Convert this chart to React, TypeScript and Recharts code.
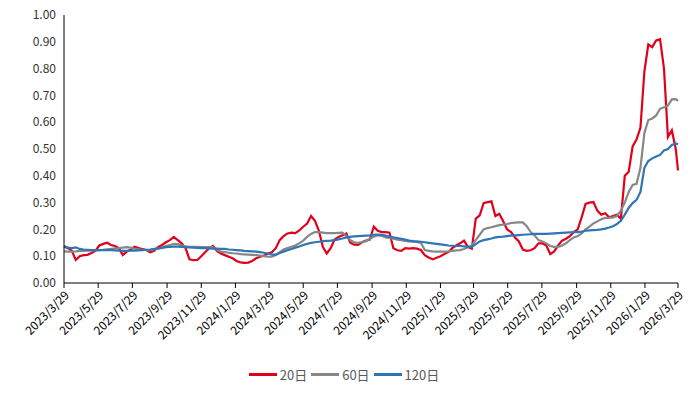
import React from 'react';
import { LineChart, Line, XAxis, YAxis, Legend } from 'recharts';

// x-axis tick labels (every two months)
const tickLabels = [
  '2023/3/29', '2023/5/29', '2023/7/29', '2023/9/29', '2023/11/29',
  '2024/1/29', '2024/3/29', '2024/5/29', '2024/7/29', '2024/9/29', '2024/11/29',
  '2025/1/29', '2025/3/29', '2025/5/29', '2025/7/29', '2025/9/29', '2025/11/29',
  '2026/1/29', '2026/3/29',
];

const yTicks = [0, 0.1, 0.2, 0.3, 0.4, 0.5, 0.6, 0.7, 0.8, 0.9, 1.0];

// weekly samples from 2023/3/29, last one on 2026/3/29
const vol20 = [
  0.135, 0.13, 0.12, 0.086, 0.1, 0.104, 0.105, 0.112, 0.12, 0.14,
  0.146, 0.15, 0.142, 0.138, 0.13, 0.104, 0.117, 0.125, 0.135, 0.13,
  0.127, 0.123, 0.115, 0.12, 0.134, 0.142, 0.152, 0.16, 0.172, 0.16,
  0.148, 0.13, 0.088, 0.085, 0.086, 0.1, 0.115, 0.13, 0.138, 0.12,
  0.11, 0.104, 0.098, 0.092, 0.082, 0.077, 0.075, 0.076, 0.082, 0.092,
  0.098, 0.102, 0.11, 0.115, 0.13, 0.16, 0.175, 0.185, 0.188, 0.186,
  0.196, 0.21, 0.222, 0.25, 0.232, 0.195, 0.135, 0.11, 0.13, 0.162,
  0.172, 0.178, 0.185, 0.15, 0.143, 0.142, 0.152, 0.158, 0.162, 0.21,
  0.195, 0.19, 0.19, 0.188, 0.13, 0.122, 0.12, 0.13, 0.128, 0.13,
  0.128, 0.123, 0.104, 0.095, 0.088, 0.094, 0.1, 0.108, 0.115, 0.13,
  0.14, 0.148, 0.158, 0.135, 0.128, 0.24, 0.252, 0.298, 0.302, 0.305,
  0.25, 0.258, 0.23, 0.2, 0.19, 0.17, 0.155, 0.125, 0.12, 0.122,
  0.13, 0.148, 0.148, 0.14, 0.108, 0.118, 0.14, 0.158, 0.165, 0.175,
  0.19, 0.2, 0.245, 0.295, 0.3, 0.302, 0.27, 0.255, 0.26, 0.245,
  0.25, 0.255, 0.24, 0.4, 0.415, 0.51, 0.535, 0.58, 0.79, 0.89,
  0.88, 0.905, 0.91, 0.8, 0.545, 0.57, 0.5, 0.42,
];

const vol60 = [
  0.118, 0.117, 0.117, 0.118, 0.12, 0.12, 0.121, 0.122, 0.122, 0.123,
  0.124, 0.126, 0.127, 0.129, 0.13, 0.132, 0.134, 0.132, 0.128, 0.126,
  0.124, 0.123, 0.123, 0.125, 0.128, 0.132, 0.138, 0.142, 0.146, 0.145,
  0.14, 0.137, 0.135, 0.135, 0.135, 0.134, 0.134, 0.134, 0.133, 0.125,
  0.117, 0.115, 0.113, 0.111, 0.11, 0.108, 0.107, 0.106, 0.105, 0.104,
  0.102, 0.1, 0.098, 0.098, 0.104, 0.115, 0.125, 0.13, 0.135, 0.14,
  0.148, 0.158, 0.172, 0.183, 0.19, 0.19, 0.188, 0.186, 0.186, 0.186,
  0.187, 0.188, 0.175, 0.16, 0.152, 0.15, 0.153, 0.156, 0.165, 0.173,
  0.178, 0.176, 0.17, 0.168, 0.165, 0.162, 0.16, 0.157, 0.155, 0.154,
  0.153, 0.15, 0.123, 0.12, 0.118, 0.117, 0.117, 0.117, 0.118, 0.12,
  0.122, 0.123, 0.127, 0.133, 0.14, 0.16, 0.18, 0.2, 0.205, 0.208,
  0.212, 0.216, 0.218, 0.22, 0.224, 0.225, 0.226, 0.226, 0.212, 0.19,
  0.178, 0.16, 0.155, 0.148, 0.138, 0.135, 0.135, 0.14, 0.148, 0.16,
  0.17, 0.175, 0.185, 0.2, 0.21, 0.222, 0.23, 0.238, 0.243, 0.243,
  0.245, 0.25, 0.27, 0.3, 0.34, 0.366, 0.37, 0.43, 0.56, 0.608,
  0.614, 0.625, 0.65, 0.656, 0.662, 0.685, 0.686, 0.68,
];

const vol120 = [
  0.138, 0.132, 0.13, 0.133, 0.127, 0.125, 0.124, 0.123, 0.123, 0.123,
  0.123, 0.123, 0.123, 0.122, 0.121, 0.12, 0.12, 0.121, 0.121, 0.122,
  0.123, 0.124, 0.125, 0.127, 0.129, 0.131, 0.134, 0.135, 0.136, 0.136,
  0.135, 0.134, 0.133, 0.132, 0.131, 0.13, 0.13, 0.129, 0.128, 0.128,
  0.127, 0.127, 0.125, 0.124, 0.123, 0.122, 0.12, 0.119, 0.118, 0.117,
  0.115, 0.113, 0.11, 0.106, 0.106, 0.112, 0.117, 0.122, 0.127, 0.132,
  0.136, 0.142, 0.146, 0.15, 0.152, 0.154, 0.156, 0.157, 0.158, 0.16,
  0.163, 0.166, 0.17, 0.172, 0.174, 0.175, 0.176, 0.177, 0.178, 0.18,
  0.181, 0.18, 0.177, 0.173, 0.17, 0.168, 0.165, 0.162, 0.158, 0.156,
  0.155, 0.154, 0.152, 0.15, 0.148, 0.146, 0.144, 0.142, 0.14, 0.139,
  0.138, 0.138, 0.137, 0.135, 0.135, 0.145, 0.155, 0.16, 0.163, 0.166,
  0.17, 0.172, 0.173, 0.175, 0.177, 0.178, 0.179, 0.18, 0.181, 0.182,
  0.183, 0.183, 0.183, 0.183, 0.184, 0.185, 0.186, 0.187, 0.188, 0.189,
  0.19, 0.19, 0.192, 0.195, 0.196, 0.197, 0.198, 0.2, 0.203, 0.207,
  0.212, 0.22, 0.232, 0.255, 0.28, 0.298, 0.31, 0.34, 0.43, 0.455,
  0.465, 0.472, 0.478, 0.495, 0.5, 0.515, 0.52, 0.518,
];

const DAY = 86400000;
const parseDay = (s: string) => {
  const [y, m, d] = s.split('/').map(Number);
  return Date.UTC(y, m - 1, d);
};
const start = parseDay(tickLabels[0]);
const end = parseDay(tickLabels[tickLabels.length - 1]);
const totalDays = Math.round((end - start) / DAY);
const tickDays = tickLabels.map((s) => Math.round((parseDay(s) - start) / DAY));
const labelByDay: { [k: number]: string } = {};
tickDays.forEach((d, i) => (labelByDay[d] = tickLabels[i]));

const data = vol20.map((v, i) => ({
  day: i === vol20.length - 1 ? totalDays : i * 7,
  v20: v,
  v60: vol60[i],
  v120: vol120[i],
}));

const series = [
  { key: 'v20', name: '20日', color: '#E1001A' },
  { key: 'v60', name: '60日', color: '#878787' },
  { key: 'v120', name: '120日', color: '#2E75B6' },
];

const font = '"Microsoft YaHei", "Noto Sans CJK SC", "Noto Sans", sans-serif';

const renderLegend = () => (
  <div style={{ display: 'flex', justifyContent: 'center', alignItems: 'center', paddingLeft: 14, fontFamily: font, fontSize: 13, color: '#595959' }}>
    {series.map((s) => (
      <div key={s.key} style={{ display: 'flex', alignItems: 'center', marginRight: 4 }}>
        <span style={{ display: 'inline-block', width: 28, height: 3, background: s.color, marginRight: 3 }} />
        <span>{s.name}</span>
      </div>
    ))}
  </div>
);

export default function App() {
  return (
    <div style={{ position: 'absolute', left: 0, top: 0, width: 692, height: 395, background: '#fff' }}>
      <LineChart width={692} height={395} data={data} margin={{ top: 15, right: 14, bottom: 10, left: 0 }}>
        <XAxis
          dataKey="day"
          type="number"
          domain={[0, totalDays]}
          ticks={tickDays}
          interval={0}
          tickFormatter={(d: number) => labelByDay[d] ?? ''}
          angle={-45}
          textAnchor="end"
          height={82}
          stroke="#000"
          tickLine={{ stroke: '#000' }}
          tickSize={5}
          tick={{ fill: '#000', fontSize: 12, fontFamily: font }}
        />
        <YAxis
          type="number"
          domain={[0, 1]}
          ticks={yTicks}
          interval={0}
          width={64}
          tickFormatter={(v: number) => v.toFixed(2)}
          stroke="#000"
          tickLine={false}
          tick={{ fill: '#333', fontSize: 12, fontFamily: font }}
        />
        <Legend verticalAlign="bottom" height={20} content={renderLegend} />
        {series.map((s) => (
          <Line
            key={s.key}
            dataKey={s.key}
            name={s.name}
            stroke={s.color}
            strokeWidth={2.2}
            dot={false}
            type="linear"
            isAnimationActive={false}
          />
        ))}
      </LineChart>
    </div>
  );
}
